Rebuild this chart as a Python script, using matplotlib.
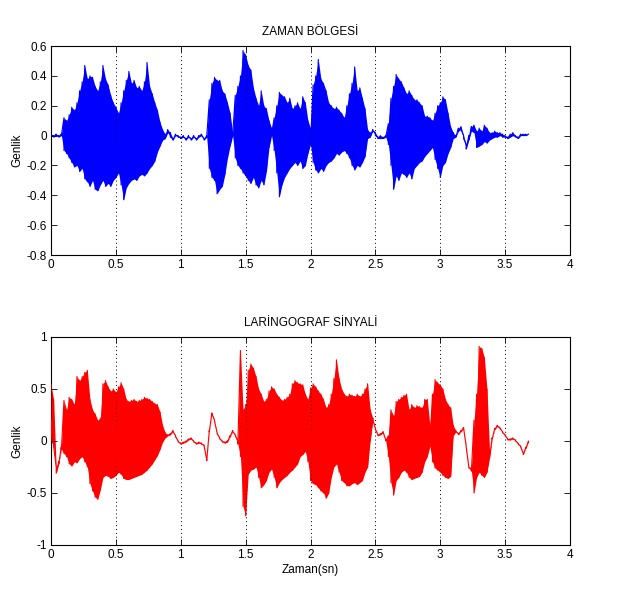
import numpy as np
import matplotlib
matplotlib.use("Agg")
import matplotlib.pyplot as plt

plt.rcParams['font.family'] = ['Liberation Sans', 'DejaVu Sans']

# envelope sampling step (s)
step = 0.02

# ---- ZAMAN BÖLGESİ (speech signal), upper / lower envelope every 0.02 s ----
speech_upper = [
    0.01, 0.00, 0.01, 0.00, 0.01, 0.12, 0.10, 0.14, 0.19, 0.17,
    0.22, 0.30, 0.36, 0.47, 0.38, 0.40, 0.39, 0.33, 0.30, 0.36,
    0.47, 0.38, 0.34, 0.27, 0.22, 0.19, 0.15, 0.22, 0.30, 0.37,
    0.43, 0.35, 0.37, 0.32, 0.33, 0.30, 0.36, 0.49, 0.33, 0.28,
    0.22, 0.17, 0.09, 0.04, 0.01, 0.04, 0.02, -0.02, 0.01, 0.00,
    -0.01, 0.00, -0.02, 0.00, -0.02, 0.00, -0.02, 0.00, 0.01, -0.02,
    0.00, 0.24, 0.35, 0.39, 0.37, 0.37, 0.30, 0.28, 0.22, 0.15,
    0.02, 0.27, 0.33, 0.40, 0.57, 0.54, 0.47, 0.44, 0.32, 0.25,
    0.20, 0.30, 0.20, 0.18, 0.10, 0.05, 0.12, 0.20, 0.29, 0.27,
    0.26, 0.22, 0.25, 0.18, 0.20, 0.22, 0.18, 0.26, 0.22, 0.10,
    0.05, 0.34, 0.40, 0.51, 0.38, 0.35, 0.30, 0.22, 0.20, 0.18,
    0.19, 0.17, 0.15, 0.12, 0.20, 0.28, 0.35, 0.46, 0.30, 0.32,
    0.25, 0.18, 0.04, 0.02, 0.04, 0.02, -0.01, 0.00, -0.01, 0.00,
    0.08, 0.25, 0.33, 0.41, 0.38, 0.36, 0.32, 0.28, 0.30, 0.27,
    0.24, 0.24, 0.22, 0.20, 0.13, 0.13, 0.12, 0.10, 0.15, 0.20,
    0.22, 0.26, 0.24, 0.15, 0.06, 0.02, 0.00, 0.05, 0.06, 0.00,
    -0.06, 0.00, 0.06, 0.07, 0.03, 0.05, 0.03, 0.07, 0.05, 0.02,
    0.02, 0.03, 0.02, 0.02, 0.01, 0.00, -0.01, 0.01, 0.02, 0.00,
    -0.01, 0.01, 0.01, 0.01, 0.01,
]
speech_lower = [
    0.00, -0.01, 0.00, -0.01, 0.00, -0.10, -0.12, -0.15, -0.18, -0.21,
    -0.20, -0.24, -0.22, -0.29, -0.31, -0.34, -0.30, -0.36, -0.37, -0.33,
    -0.30, -0.34, -0.32, -0.34, -0.30, -0.28, -0.25, -0.33, -0.43, -0.35,
    -0.32, -0.30, -0.29, -0.30, -0.27, -0.26, -0.27, -0.25, -0.22, -0.20,
    -0.17, -0.11, -0.07, -0.03, -0.02, 0.02, -0.01, -0.03, 0.00, -0.01,
    -0.02, -0.01, -0.03, -0.01, -0.03, -0.01, -0.03, -0.01, 0.00, -0.03,
    -0.01, -0.22, -0.28, -0.30, -0.39, -0.36, -0.34, -0.26, -0.15, -0.07,
    0.00, -0.15, -0.20, -0.22, -0.25, -0.27, -0.30, -0.32, -0.28, -0.33,
    -0.35, -0.30, -0.33, -0.24, -0.08, 0.00, -0.10, -0.25, -0.41, -0.33,
    -0.28, -0.25, -0.22, -0.20, -0.18, -0.20, -0.17, -0.22, -0.20, -0.12,
    -0.06, -0.18, -0.23, -0.25, -0.22, -0.24, -0.20, -0.18, -0.17, -0.15,
    -0.12, -0.13, -0.11, -0.10, -0.12, -0.15, -0.20, -0.23, -0.20, -0.21,
    -0.18, -0.14, -0.02, -0.01, 0.03, 0.00, -0.02, -0.02, -0.02, -0.01,
    -0.06, -0.20, -0.36, -0.27, -0.30, -0.25, -0.26, -0.28, -0.25, -0.29,
    -0.22, -0.20, -0.18, -0.17, -0.14, -0.12, -0.10, -0.08, -0.16, -0.22,
    -0.28, -0.20, -0.18, -0.12, -0.08, -0.02, -0.01, 0.03, 0.04, -0.02,
    -0.09, -0.03, 0.03, 0.02, -0.08, -0.07, -0.06, -0.04, -0.05, -0.03,
    -0.02, -0.01, -0.01, 0.00, -0.01, -0.01, -0.02, -0.01, 0.00, -0.01,
    -0.02, 0.00, 0.00, 0.00, 0.01,
]

# ---- LARİNGOGRAF SİNYALİ, upper / lower envelope every 0.02 s ----
lx_upper = [
    0.54, 0.40, -0.25, -0.20, -0.05, 0.39, 0.30, 0.42, 0.40, 0.35,
    0.62, 0.58, 0.62, 0.66, 0.68, 0.40, 0.30, 0.26, 0.20, 0.22,
    0.55, 0.58, 0.52, 0.48, 0.50, 0.47, 0.52, 0.56, 0.50, 0.40,
    0.38, 0.39, 0.40, 0.38, 0.39, 0.40, 0.42, 0.41, 0.40, 0.38,
    0.36, 0.35, 0.28, 0.15, 0.08, 0.06, 0.07, 0.10, 0.05, 0.00,
    -0.02, -0.01, 0.00, 0.02, 0.03, 0.00, -0.02, -0.01, -0.02, -0.04,
    -0.18, 0.10, 0.27, 0.20, 0.08, 0.03, 0.00, -0.01, 0.00, 0.05,
    0.10, 0.06, 0.00, 0.87, 0.30, 0.35, 0.68, 0.74, 0.70, 0.62,
    0.50, 0.45, 0.38, 0.40, 0.48, 0.52, 0.50, 0.45, 0.42, 0.39,
    0.40, 0.42, 0.45, 0.55, 0.58, 0.56, 0.55, 0.54, 0.45, 0.40,
    0.51, 0.55, 0.52, 0.48, 0.45, 0.40, 0.32, 0.35, 0.45, 0.60,
    0.78, 0.60, 0.50, 0.45, 0.43, 0.45, 0.44, 0.43, 0.45, 0.43,
    0.45, 0.50, 0.55, 0.30, 0.22, 0.12, 0.06, 0.07, 0.09, 0.01,
    0.05, 0.30, 0.24, 0.38, 0.40, 0.42, 0.44, 0.45, 0.30, 0.35,
    0.32, 0.34, 0.33, 0.32, 0.40, 0.40, 0.15, 0.45, 0.59, 0.56,
    0.54, 0.50, 0.40, 0.35, 0.32, 0.15, 0.10, 0.07, 0.10, 0.13,
    -0.05, -0.25, -0.26, 0.20, 0.45, 0.91, 0.89, 0.80, 0.50, -0.10,
    0.03, 0.12, 0.15, 0.13, 0.09, 0.06, 0.02, 0.02, 0.03, 0.01,
    -0.02, -0.05, -0.12, -0.06, 0.00,
]
lx_lower = [
    0.00, -0.05, -0.31, -0.22, -0.08, -0.12, -0.15, -0.22, -0.24, -0.20,
    -0.21, -0.17, -0.15, -0.20, -0.25, -0.41, -0.48, -0.54, -0.56, -0.47,
    -0.35, -0.33, -0.34, -0.36, -0.35, -0.33, -0.30, -0.32, -0.36, -0.37,
    -0.37, -0.36, -0.35, -0.34, -0.33, -0.32, -0.30, -0.28, -0.25, -0.22,
    -0.18, -0.14, -0.08, -0.01, 0.03, 0.05, 0.06, 0.09, 0.04, -0.01,
    -0.03, -0.02, -0.01, 0.01, 0.02, -0.01, -0.03, -0.02, -0.03, -0.05,
    -0.19, 0.09, 0.26, 0.19, 0.07, 0.02, -0.01, -0.02, -0.01, 0.04,
    0.09, 0.05, -0.03, -0.15, -0.63, -0.72, -0.32, -0.28, -0.27, -0.25,
    -0.35, -0.45, -0.42, -0.38, -0.30, -0.27, -0.35, -0.45, -0.40, -0.37,
    -0.35, -0.33, -0.30, -0.28, -0.25, -0.22, -0.15, -0.13, -0.10, -0.20,
    -0.38, -0.41, -0.42, -0.45, -0.48, -0.50, -0.55, -0.50, -0.35, -0.25,
    -0.22, -0.30, -0.38, -0.40, -0.43, -0.43, -0.41, -0.40, -0.42, -0.40,
    -0.38, -0.30, -0.25, 0.00, 0.20, 0.11, 0.05, 0.06, 0.08, 0.00,
    -0.15, -0.40, -0.52, -0.38, -0.35, -0.30, -0.28, -0.30, -0.35, -0.37,
    -0.36, -0.35, -0.34, -0.30, -0.20, -0.15, -0.05, -0.20, -0.26, -0.28,
    -0.30, -0.33, -0.35, -0.36, -0.34, 0.05, 0.09, 0.06, 0.09, 0.12,
    -0.06, -0.26, -0.29, -0.50, -0.35, -0.30, -0.33, -0.35, -0.30, -0.16,
    0.02, 0.11, 0.14, 0.12, 0.08, 0.05, 0.01, 0.01, 0.02, 0.00,
    -0.03, -0.06, -0.13, -0.07, -0.01,
]

xticks = [0, 0.5, 1, 1.5, 2, 2.5, 3, 3.5, 4]
xticklabels = ["0", "0.5", "1", "1.5", "2", "2.5", "3", "3.5", "4"]
top_yticks = [-0.8, -0.6, -0.4, -0.2, 0, 0.2, 0.4, 0.6]
top_yticklabels = ["-0.8", "-0.6", "-0.4", "-0.2", "0", "0.2", "0.4", "0.6"]
bot_yticks = [-1, -0.5, 0, 0.5, 1]
bot_yticklabels = ["-1", "-0.5", "0", "0.5", "1"]


def draw_wave(ax, upper, lower, color):
    up = np.asarray(upper, float)
    lo = np.asarray(lower, float)
    t = np.arange(len(up)) * step
    # solid body between the envelopes
    ax.fill_between(t, lo, up, color=color, lw=0, zorder=2)
    # zig-zag between envelope points for the spiky edge
    x = np.repeat(t, 2)
    y = np.empty(2 * len(up))
    y[0::2] = up
    y[1::2] = lo
    ax.plot(x, y, color=color, lw=0.8, zorder=3)


fig = plt.figure(figsize=(6.32, 6.12), dpi=100)
fig.patch.set_facecolor('white')

ax1 = fig.add_axes([0.0807, 0.5833, 0.8212, 0.3415])
ax2 = fig.add_axes([0.0807, 0.1095, 0.8212, 0.3399])

draw_wave(ax1, speech_upper, speech_lower, (0, 0, 1))
draw_wave(ax2, lx_upper, lx_lower, (1, 0, 0))

for ax, yt, ytl, ylim in [(ax1, top_yticks, top_yticklabels, (-0.8, 0.6)),
                          (ax2, bot_yticks, bot_yticklabels, (-1, 1))]:
    ax.set_xlim(0, 4)
    ax.set_ylim(*ylim)
    ax.set_xticks(xticks)
    ax.set_xticklabels(xticklabels)
    ax.set_yticks(yt)
    ax.set_yticklabels(ytl)
    ax.tick_params(direction='in', top=True, right=True, length=4,
                   width=0.6, labelsize=8.5, pad=3)
    ax.xaxis.grid(True, linestyle=(0, (1, 3)), color='black', lw=0.7)
    ax.set_axisbelow(False)
    for s in ax.spines.values():
        s.set_linewidth(0.8)
    ax.set_ylabel("Genlik", fontsize=8.5, labelpad=2)

ax1.set_title("ZAMAN BÖLGESİ", fontsize=8.5, pad=8)
ax2.set_title("LARİNGOGRAF SİNYALİ", fontsize=8.5, pad=8)
ax2.set_xlabel("Zaman(sn)", fontsize=8.5, labelpad=2)

fig.savefig("out.png", dpi=100, facecolor='white')
